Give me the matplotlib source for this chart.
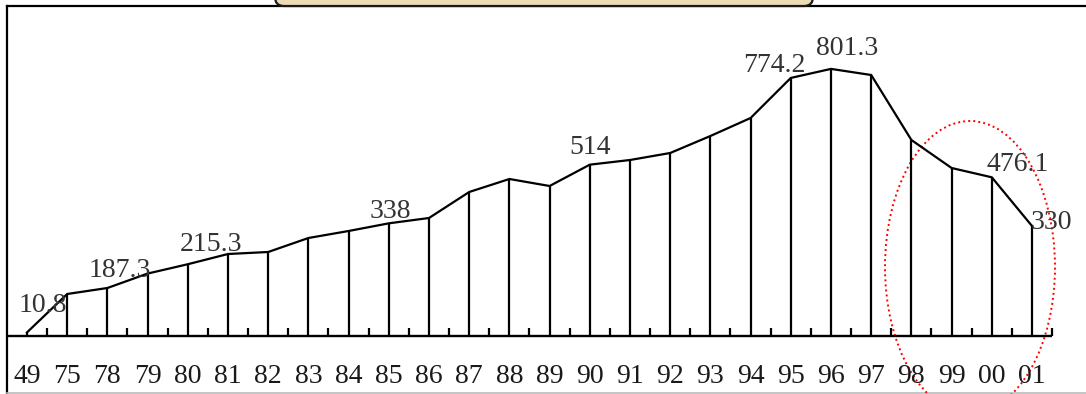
import matplotlib
matplotlib.use("Agg")
import matplotlib.pyplot as plt
from matplotlib.patches import Ellipse, FancyBboxPatch
from matplotlib.lines import Line2D

# Year labels along the axis and the yearly values
years = ["49", "75", "78", "79", "80", "81", "82", "83", "84", "85", "86", "87", "88",
         "89", "90", "91", "92", "93", "94", "95", "96", "97", "98", "99", "00", "01"]
values = [10.8, 126, 144, 187.3, 215.3, 246, 252, 294, 315, 338, 354, 432, 471,
          450, 514, 528, 549, 600, 654, 774.2, 801.3, 783, 588, 504, 476.1, 330]

# Years whose value is written next to the point
labelled_years = ["49", "79", "80", "85", "90", "95", "96", "00", "01"]

W, H = 1086, 394
fig = plt.figure(figsize=(W / 100, H / 100), dpi=100)
plt.rcParams["font.family"] = ["Liberation Serif", "DejaVu Serif"]

# Decoration layer in pixel units (frame and title tab)
deco = fig.add_axes([0, 0, 1, 1], zorder=0)
deco.set_xlim(0, W)
deco.set_ylim(H, 0)
deco.axis("off")
deco.add_line(Line2D([7, 7], [6, H], color="black", lw=1.6))
deco.add_line(Line2D([7, W], [6, 6], color="black", lw=1.6))
deco.add_line(Line2D([7, W], [392.5, 392.5], color="#bbbbbb", lw=1.2))
tab = FancyBboxPatch((275, -30), 538, 36,
                     boxstyle="round,pad=0,rounding_size=9",
                     facecolor="#eddcb8", edgecolor="#1a1a1a", lw=1.6, zorder=3)
deco.add_patch(tab)

# Data layer
ax = fig.add_axes([0, 0, 1, 1], zorder=1)
ax.patch.set_alpha(0)
ax.axis("off")
step = 40.2
x0 = 27
ax.set_xlim(-x0 / step, (W - x0) / step)
ax.set_ylim(-3 * (H - 336), 3 * 336)

xs = list(range(len(years)))
ink = "black"

# baseline with half-step ticks
ax.plot([-0.5, len(years) - 0.5], [0, 0], color=ink, lw=1.7, solid_capstyle="butt")
ax.vlines([i + 0.5 for i in xs], 0, 24, color=ink, lw=1.6)

# drop lines and the polyline
ax.vlines(xs, 0, values, color=ink, lw=1.6)
ax.plot(xs, values, color=ink, lw=1.6, solid_joinstyle="miter")

# year labels
for i, y in enumerate(years):
    ax.text(i, -141, y, ha="center", va="baseline", fontsize=20, color="#1a1a1a")

# value labels (offsets in pixels relative to each point)
label_offsets = {"49": (16, 20), "79": (-28, -3), "80": (23, 13), "85": (2, 5),
                 "90": (0, 11), "95": (-16, 6), "96": (16, 14), "00": (26, 6),
                 "01": (19, -3)}
for yr in labelled_years:
    i = years.index(yr)
    v = values[i]
    dx, dy = label_offsets[yr]
    ax.annotate(f"{v:g}", (i, v), xytext=(dx, dy), textcoords="offset pixels",
                ha="center", va="baseline", fontsize=20, color="#333333")

# dotted ellipse around the last years
ell = Ellipse(((970 - x0) / step, 3 * (336 - 267)), 170 / step, 3 * 292,
              fill=False, edgecolor="red", lw=1.4, linestyle=(0, (1, 1.6)))
ax.add_patch(ell)

fig.savefig("out.png", dpi=100)
